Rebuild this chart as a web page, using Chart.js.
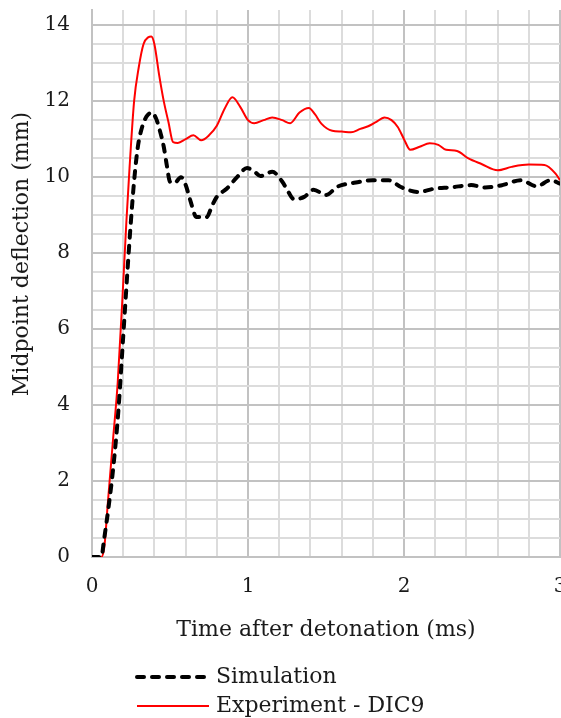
<!DOCTYPE html>
<html>
<head>
<meta charset="utf-8">
<title>Midpoint deflection</title>
<script src="https://cdn.jsdelivr.net/npm/chart.js@4/dist/chart.umd.min.js"></script>
<style>
    html, body { margin: 0; padding: 0; background: #fff; overflow: hidden; }
    canvas { display: block; }
</style>
</head>
<body>
<canvas id="deflectionChart" width="561" height="718"></canvas>
<script>
// Simulation (dashed) - time in ms, deflection in mm
const simTime = [0, 0.06, 0.077, 0.109, 0.14, 0.17, 0.2, 0.23, 0.25, 0.27, 0.294, 0.32, 0.35, 0.385, 0.41,
    0.434, 0.46, 0.48, 0.5, 0.53, 0.57, 0.6, 0.63, 0.67, 0.735, 0.77, 0.8, 0.865, 0.93, 0.994, 1.04,
    1.08, 1.155, 1.22, 1.26, 1.294, 1.36, 1.42, 1.5, 1.574, 1.68, 1.8, 1.9, 1.98, 2.09, 2.2, 2.3,
    2.43, 2.52, 2.63, 2.75, 2.85, 2.94, 3.0];
const simDeflection = [0, 0, 0.45, 1.4, 2.5, 3.9, 5.8, 7.7, 8.87, 9.9, 10.8, 11.3, 11.6, 11.7, 11.55,
    11.24, 10.8, 10.3, 9.88, 9.85, 10.0, 9.8, 9.39, 8.95, 8.95, 9.25, 9.48, 9.7, 10.0, 10.24, 10.15,
    10.03, 10.14, 9.88, 9.6, 9.42, 9.48, 9.67, 9.53, 9.75, 9.85, 9.92, 9.92, 9.74, 9.61, 9.7, 9.73,
    9.79, 9.73, 9.79, 9.92, 9.76, 9.92, 9.83];

// Experiment - DIC9 (solid red)
const expTime = [0, 0.06, 0.08, 0.1, 0.135, 0.165, 0.2, 0.22, 0.24, 0.27, 0.3, 0.33, 0.36, 0.38, 0.4,
    0.43, 0.46, 0.49, 0.52, 0.55, 0.6, 0.65, 0.7, 0.75, 0.8, 0.85, 0.9, 0.95, 1.0, 1.04, 1.1, 1.155,
    1.22, 1.27, 1.33, 1.39, 1.43, 1.47, 1.54, 1.6, 1.66, 1.72, 1.77, 1.82, 1.875, 1.92, 1.96, 2.0,
    2.04, 2.1, 2.165, 2.22, 2.27, 2.34, 2.41, 2.5, 2.6, 2.69, 2.8, 2.9, 2.97, 3.0];
const expDeflection = [0, 0, 0.3, 1.35, 3.1, 4.6, 7.2, 8.8, 10.2, 12.0, 12.9, 13.5, 13.68, 13.7, 13.5,
    12.7, 12.0, 11.45, 10.92, 10.9, 11.0, 11.1, 10.97, 11.1, 11.35, 11.8, 12.1, 11.85, 11.5, 11.42, 11.5, 11.57,
    11.5, 11.42, 11.7, 11.82, 11.65, 11.41, 11.22, 11.2, 11.18, 11.27, 11.34, 11.45, 11.57, 11.5, 11.32, 11.0,
    10.72, 10.8, 10.89, 10.85, 10.72, 10.69, 10.5, 10.34, 10.18, 10.27, 10.33, 10.32, 10.1, 9.92];

const seriesLabels = ['Simulation', 'Experiment - DIC9'];
const xTitle = 'Time after detonation (ms)';
const yTitle = 'Midpoint deflection (mm)';

// grid steps: thin lines every 0.2 ms / 0.5 mm, labelled lines every 1 ms / 2 mm
const xStep = 0.2, xLabelStep = 1;
const yStep = 0.5, yLabelStep = 2, yTop = 14;

const FONT = '"DejaVu Serif", serif';
const TEXT = '#1a1a1a';
const MINOR = '#dcdcdc';
const MAJOR = '#c2c2c2';

const toPoints = (xs, ys) => xs.map((x, i) => ({ x: x, y: ys[i] }));
const isMultiple = (v, step) => Math.abs(v / step - Math.round(v / step)) < 1e-6;
const stepTicks = (to, step) => Array.from({ length: Math.round(to / step) + 1 }, (_, i) => ({ value: +(i * step).toFixed(4) }));

// no extra room for the end labels, the "3" may run off the edge
const noLabelPadding = (scale) => {
    scale.paddingTop = 0;
    scale.paddingBottom = 0;
    scale.paddingLeft = 0;
    scale.paddingRight = 0;
};

// y-axis title and the stacked legend below the x-axis title
const extrasPlugin = {
    id: 'extras',
    afterDraw(chart) {
        const ctx = chart.ctx;
        ctx.save();
        ctx.fillStyle = TEXT;
        ctx.font = '22px ' + FONT;

        ctx.translate(22, 254);
        ctx.rotate(-Math.PI / 2);
        ctx.textAlign = 'center';
        ctx.textBaseline = 'middle';
        ctx.fillText(yTitle, 0, 0);
        ctx.setTransform(1, 0, 0, 1, 0, 0);

        const rows = [677, 706];
        chart.data.datasets.forEach((ds, i) => {
            const y = rows[i];
            ctx.beginPath();
            ctx.strokeStyle = ds.borderColor;
            ctx.lineWidth = ds.borderWidth;
            ctx.lineCap = ds.borderCapStyle || 'butt';
            ctx.setLineDash(ds.borderDash || []);
            ctx.moveTo(137, y);
            ctx.lineTo(209, y);
            ctx.stroke();
            ctx.setLineDash([]);
            ctx.textAlign = 'left';
            ctx.textBaseline = 'middle';
            ctx.fillText(ds.label, 216, y);
        });
        ctx.restore();
    }
};

const chart = new Chart(document.getElementById('deflectionChart'), {
    type: 'line',
    data: {
        datasets: [
            {
                label: seriesLabels[0],
                data: toPoints(simTime, simDeflection),
                borderColor: '#000000',
                borderWidth: 4,
                borderDash: [7, 8],
                borderCapStyle: 'round',
                cubicInterpolationMode: 'monotone',
                pointRadius: 0,
                fill: false
            },
            {
                label: seriesLabels[1],
                data: toPoints(expTime, expDeflection),
                borderColor: '#ff0000',
                borderWidth: 2,
                cubicInterpolationMode: 'monotone',
                pointRadius: 0,
                fill: false
            }
        ]
    },
    options: {
        responsive: false,
        animation: false,
        layout: {
            autoPadding: false,
            padding: { left: 0, top: 10, right: 1, bottom: 75 }
        },
        plugins: {
            legend: { display: false },
            tooltip: { enabled: false }
        },
        scales: {
            x: {
                type: 'linear',
                min: 0,
                max: 3,
                afterBuildTicks: (scale) => { scale.ticks = stepTicks(3, xStep); },
                afterFit: (scale) => { scale.height = 86; noLabelPadding(scale); },
                ticks: {
                    autoSkip: false,
                    maxRotation: 0,
                    padding: 18,
                    color: TEXT,
                    font: { family: FONT, size: 20 },
                    callback: (v) => isMultiple(v, xLabelStep) ? String(Math.round(v)) : ''
                },
                grid: {
                    drawTicks: false,
                    lineWidth: 2,
                    color: (c) => isMultiple(c.tick.value, xLabelStep) ? MAJOR : MINOR
                },
                border: { color: MAJOR, width: 2 },
                title: {
                    display: true,
                    text: xTitle,
                    color: TEXT,
                    padding: 0,
                    font: { family: FONT, size: 22, lineHeight: 1.2 }
                }
            },
            y: {
                min: 0,
                max: 14.4,
                afterBuildTicks: (scale) => { scale.ticks = stepTicks(yTop, yStep); },
                afterFit: (scale) => { scale.width = 92; noLabelPadding(scale); },
                ticks: {
                    autoSkip: false,
                    padding: 22,
                    color: TEXT,
                    font: { family: FONT, size: 20 },
                    callback: (v) => isMultiple(v, yLabelStep) ? String(Math.round(v)) : ''
                },
                grid: {
                    drawTicks: false,
                    lineWidth: 2,
                    color: (c) => isMultiple(c.tick.value, yLabelStep) ? MAJOR : MINOR
                },
                border: { color: MAJOR, width: 2 }
            }
        }
    },
    plugins: [extrasPlugin]
});
</script>
</body>
</html>
